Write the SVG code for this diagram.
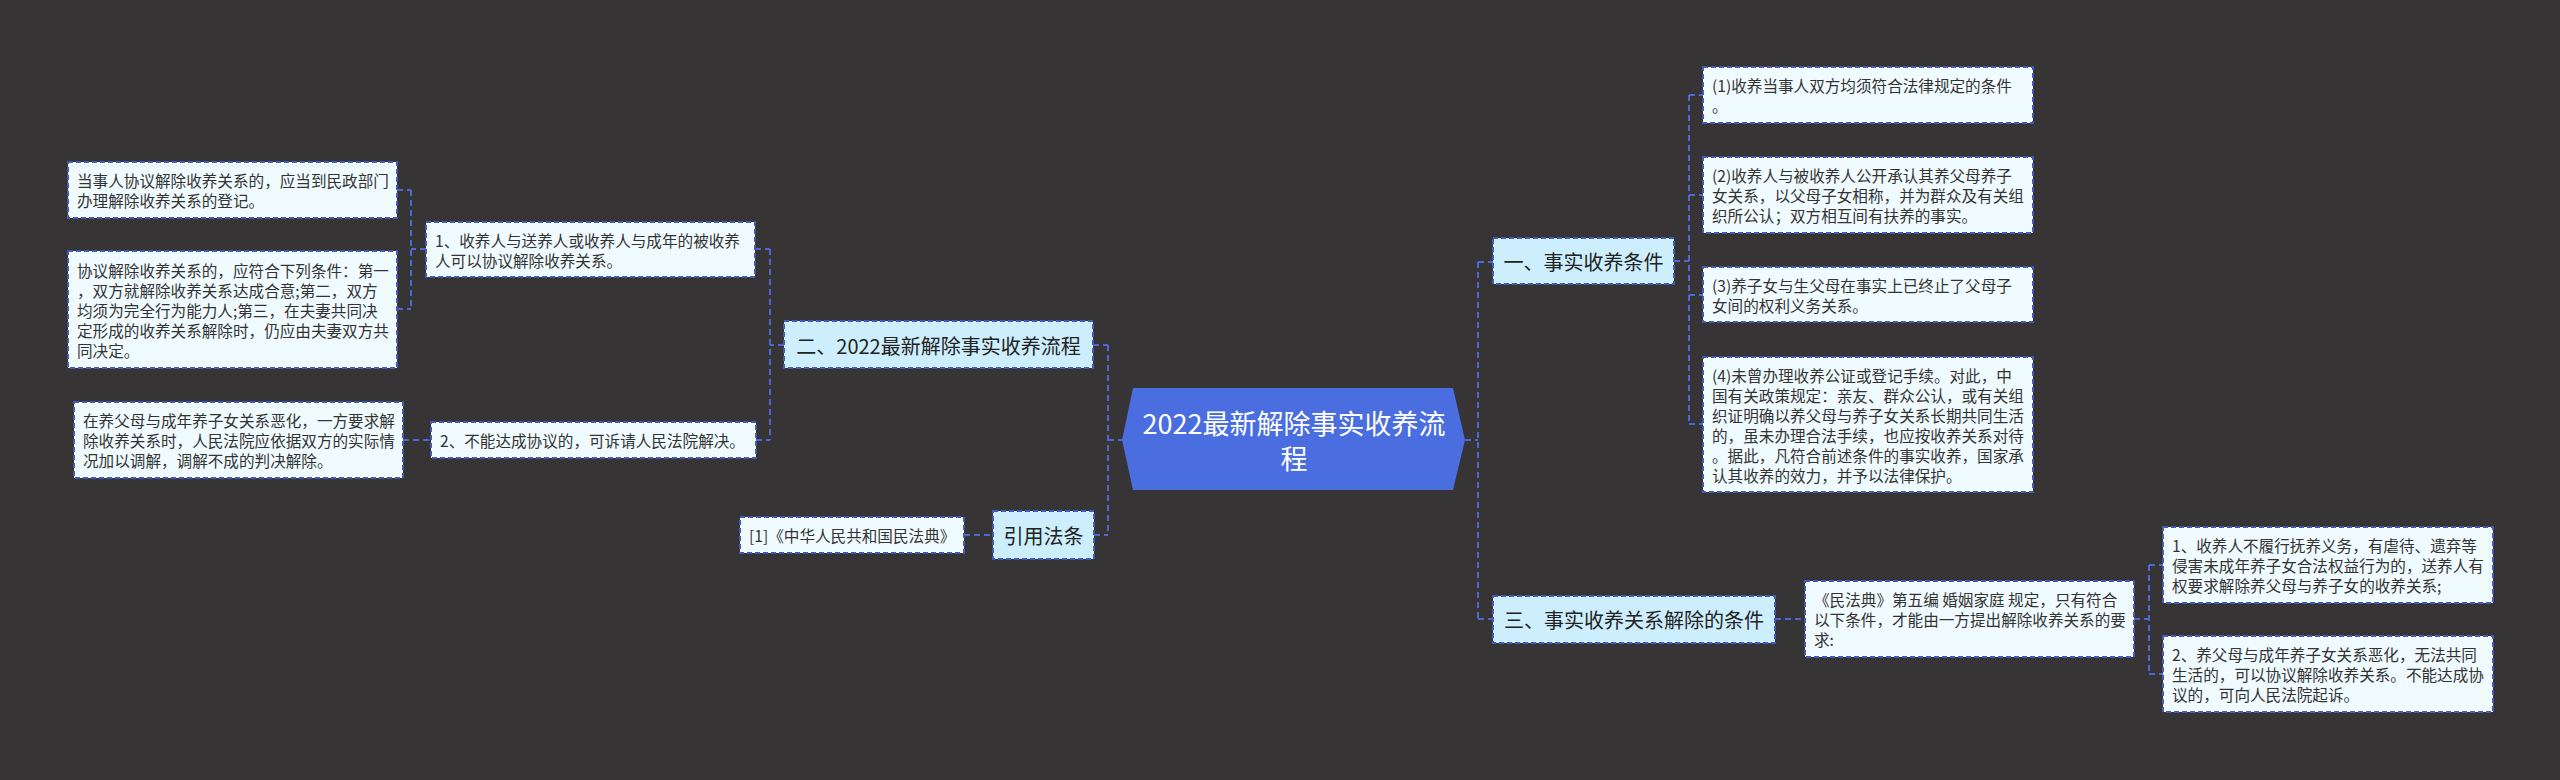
<svg xmlns="http://www.w3.org/2000/svg" width="2560" height="780" viewBox="0 0 2560 780">
<style>
.bg{fill:#363435}
.l1{fill:#cdeefd;stroke:#4559bb;stroke-width:2;stroke-dasharray:5 3}
.lf{fill:#f0fbff;stroke:#4559bb;stroke-width:2;stroke-dasharray:5 3}
.root{fill:#4a6ee0}
.c{fill:none;stroke:#4d68d4;stroke-width:2;stroke-dasharray:6 4}
text{font-family:"Noto Sans CJK SC","Noto Sans",sans-serif;dominant-baseline:central}
.t1{font-size:20px;fill:#222;text-anchor:middle}
.tl{font-size:15.6px;fill:#333}
.tr{font-size:27px;fill:#fff;text-anchor:middle}
</style>
<rect class="bg" x="0" y="0" width="2560" height="780"/>
<g id="connectors">
<path class="c" d="M1108,440H1122M1465,440H1478M1478,262V619M1478,262H1493M1478,619H1493"/>
<path class="c" d="M1674,261H1689M1689,95V424M1689,95H1703M1689,195H1703M1689,295H1703M1689,424H1703"/>
<path class="c" d="M1775,619H1805M2134,619H2149M2149,565V674M2149,565H2163M2149,674H2163"/>
<path class="c" d="M1108,345V535M1093,345H1108M1094,535H1108M964,535H993"/>
<path class="c" d="M784,345H770M770,249V440M755,249H770M756,440H770"/>
<path class="c" d="M426,249H411M411,190V309M397,190H411M397,309H411M403,440H431"/>
</g>
<g id="root">
<polygon class="root" points="1133,388 1453,388 1465,440 1453,490 1133,490 1122,440"/>
<text class="tr" x="1294" y="422">2022最新解除事实收养流</text>
<text class="tr" x="1294" y="457">程</text>
</g>
<g id="n1">
<rect class="l1" x="1493" y="238" width="181" height="46"/>
<text class="t1" x="1583.5" y="261">一、事实收养条件</text>
</g>
<g id="n1a">
<rect class="lf" x="1703" y="67" width="330" height="56"/>
<text class="tl" x="1712" y="85">(1)收养当事人双方均须符合法律规定的条件</text>
<text class="tl" x="1712" y="105">。</text>
</g>
<g id="n1b">
<rect class="lf" x="1703" y="157" width="330" height="76"/>
<text class="tl" x="1712" y="175">(2)收养人与被收养人公开承认其养父母养子</text>
<text class="tl" x="1712" y="195">女关系，以父母子女相称，并为群众及有关组</text>
<text class="tl" x="1712" y="215">织所公认；双方相互间有扶养的事实。</text>
</g>
<g id="n1c">
<rect class="lf" x="1703" y="267" width="330" height="55"/>
<text class="tl" x="1712" y="285">(3)养子女与生父母在事实上已终止了父母子</text>
<text class="tl" x="1712" y="305">女间的权利义务关系。</text>
</g>
<g id="n1d">
<rect class="lf" x="1703" y="357" width="330" height="135"/>
<text class="tl" x="1712" y="375">(4)未曾办理收养公证或登记手续。对此，中</text>
<text class="tl" x="1712" y="395">国有关政策规定：亲友、群众公认，或有关组</text>
<text class="tl" x="1712" y="415">织证明确以养父母与养子女关系长期共同生活</text>
<text class="tl" x="1712" y="435">的，虽未办理合法手续，也应按收养关系对待</text>
<text class="tl" x="1712" y="455">。据此，凡符合前述条件的事实收养，国家承</text>
<text class="tl" x="1712" y="475">认其收养的效力，并予以法律保护。</text>
</g>
<g id="n3">
<rect class="l1" x="1493" y="596" width="282" height="47"/>
<text class="t1" x="1634" y="619">三、事实收养关系解除的条件</text>
</g>
<g id="n3a">
<rect class="lf" x="1805" y="581" width="329" height="76"/>
<text class="tl" x="1814" y="599">《民法典》第五编 婚姻家庭 规定，只有符合</text>
<text class="tl" x="1814" y="619">以下条件，才能由一方提出解除收养关系的要</text>
<text class="tl" x="1814" y="639">求:</text>
</g>
<g id="n3a1">
<rect class="lf" x="2163" y="527" width="330" height="76"/>
<text class="tl" x="2172" y="545">1、收养人不履行抚养义务，有虐待、遗弃等</text>
<text class="tl" x="2172" y="565">侵害未成年养子女合法权益行为的，送养人有</text>
<text class="tl" x="2172" y="585">权要求解除养父母与养子女的收养关系;</text>
</g>
<g id="n3a2">
<rect class="lf" x="2163" y="636" width="330" height="76"/>
<text class="tl" x="2172" y="654">2、养父母与成年养子女关系恶化，无法共同</text>
<text class="tl" x="2172" y="674">生活的，可以协议解除收养关系。不能达成协</text>
<text class="tl" x="2172" y="694">议的，可向人民法院起诉。</text>
</g>
<g id="n2">
<rect class="l1" x="784" y="321" width="309" height="47"/>
<text class="t1" x="938.5" y="345">二、2022最新解除事实收养流程</text>
</g>
<g id="n2a">
<rect class="lf" x="426" y="222" width="329" height="55"/>
<text class="tl" x="435" y="240">1、收养人与送养人或收养人与成年的被收养</text>
<text class="tl" x="435" y="260">人可以协议解除收养关系。</text>
</g>
<g id="n2a1">
<rect class="lf" x="68" y="162" width="329" height="56"/>
<text class="tl" x="77" y="180">当事人协议解除收养关系的，应当到民政部门</text>
<text class="tl" x="77" y="200">办理解除收养关系的登记。</text>
</g>
<g id="n2a2">
<rect class="lf" x="68" y="251" width="329" height="117"/>
<text class="tl" x="77" y="270">协议解除收养关系的，应符合下列条件：第一</text>
<text class="tl" x="77" y="290">，双方就解除收养关系达成合意;第二，双方</text>
<text class="tl" x="77" y="310">均须为完全行为能力人;第三，在夫妻共同决</text>
<text class="tl" x="77" y="330">定形成的收养关系解除时，仍应由夫妻双方共</text>
<text class="tl" x="77" y="350">同决定。</text>
</g>
<g id="n2b">
<rect class="lf" x="431" y="422" width="325" height="36"/>
<text class="tl" x="440" y="440">2、不能达成协议的，可诉请人民法院解决。</text>
</g>
<g id="n2b1">
<rect class="lf" x="74" y="402" width="329" height="76"/>
<text class="tl" x="83" y="420">在养父母与成年养子女关系恶化，一方要求解</text>
<text class="tl" x="83" y="440">除收养关系时，人民法院应依据双方的实际情</text>
<text class="tl" x="83" y="460">况加以调解，调解不成的判决解除。</text>
</g>
<g id="n4">
<rect class="l1" x="993" y="511" width="101" height="48"/>
<text class="t1" x="1043.5" y="535">引用法条</text>
</g>
<g id="n4a">
<rect class="lf" x="740" y="517" width="224" height="36"/>
<text class="tl" x="749" y="535">[1]《中华人民共和国民法典》</text>
</g>
</svg>
